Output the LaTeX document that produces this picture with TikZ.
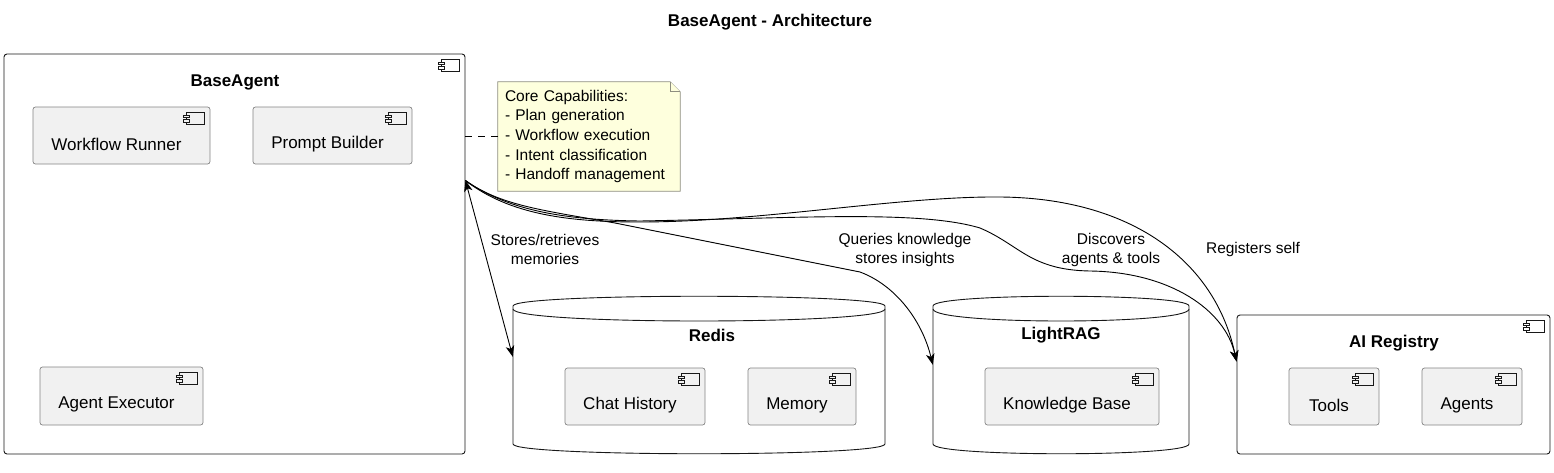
\documentclass[tikz,border=0pt]{standalone}
\usepackage{fontspec}
\setmainfont{Liberation Sans}
\usetikzlibrary{arrows.meta,backgrounds}
\definecolor{compfill}{HTML}{F1F1F1}
\definecolor{compline}{HTML}{858585}
\definecolor{outerline}{HTML}{181818}
\definecolor{notefill}{HTML}{FEFFDD}
\definecolor{noteline}{HTML}{8E8E80}
\newcommand\compicon[2]{%
  \begin{scope}[shift={(#1)}]
    \draw[iconline, fill=#2] (-24,6) rectangle (-6,18);
    \draw[iconline, fill=#2] (-27,8.5) rectangle (-21,11);
    \draw[iconline, fill=#2] (-27,13) rectangle (-21,15.5);
  \end{scope}}
\newcommand\dbshape[4]{% x1, x2, top, bottom
  \draw[outerbox] (#1,#3+12) -- (#1,#4-12) .. controls (#1,#4+4) and (#2,#4+4) .. (#2,#4-12)
    -- (#2,#3+12) .. controls (#2,#3-4) and (#1,#3-4) .. (#1,#3+12) -- cycle;
  \draw[outerbox] (#1,#3+12) .. controls (#1,#3+28) and (#2,#3+28) .. (#2,#3+12);}
\begin{document}
\begin{tikzpicture}[x=1pt,y=-1pt,
  outerbox/.style={draw=outerline, fill=white, line width=0.9pt, rounded corners=3pt},
  comp/.style={draw=compline, fill=compfill, line width=0.7pt, rounded corners=2.5pt},
  iconline/.style={draw=outerline, line width=0.6pt},
  ctext/.style={font=\fontsize{17}{20}\selectfont, yshift=-8.5pt, xshift=-5pt},
  btext/.style={font=\bfseries\fontsize{17}{20}\selectfont},
  etext/.style={font=\fontsize{15.5}{19}\selectfont, align=center},
  conn/.style={draw=black, line width=0.9pt},
  tip/.tip={Stealth[length=11pt, width=8.5pt, inset=3pt]}]
\useasboundingbox (0,0) rectangle (1554,472);

\node[btext] (title) at (770,22.5) {BaseAgent - Architecture};

% BaseAgent
\node[outerbox, minimum width=461, minimum height=400] (ba) at (234.5,254) {};
\node[btext] (balabel) at (235,82) {BaseAgent};
\compicon{ba.north east}{white}
\node[comp, minimum width=177, minimum height=57, label={[ctext]center:Workflow Runner}] (wr) at (121.5,135.5) {};
\compicon{wr.north east}{compfill}
\node[comp, minimum width=159, minimum height=57, label={[ctext]center:Prompt Builder}] (pb) at (332.5,135.5) {};
\compicon{pb.north east}{compfill}
\node[comp, minimum width=163, minimum height=58, label={[ctext]center:Agent Executor}] (ae) at (121.5,396) {};
\compicon{ae.north east}{compfill}

% Note
\node[font=\fontsize{15.5}{19.6}\selectfont, text width=168, align=left, inner xsep=7, inner ysep=0,
      minimum width=182, minimum height=109] (note) at (589,136.5)
  {\raisebox{-2.5pt}{\parbox{168pt}{Core Capabilities:\\- Plan generation\\- Workflow execution\\- Intent classification\\- Handoff management}}};
\begin{pgfonlayer}{background}
  \draw[draw=noteline, fill=notefill, line width=0.7pt] (note.north west) -- ([xshift=-10pt]note.north east)
    -- ([yshift=-10pt]note.north east) -- (note.south east) -- (note.south west) -- cycle;
\end{pgfonlayer}
\draw[draw=noteline, fill=notefill, line width=0.7pt] ([xshift=-10pt]note.north east) -- ++(0,10) -- ++(10,0);
\draw[conn, dashed, dash pattern=on 7pt off 6pt, line width=0.7pt] (ba.east |- note.west) -- (note.west);

% Redis
\node[minimum width=372, minimum height=156, inner sep=0] (redis) at (699,375) {};
\dbshape{513}{885}{297}{453}
\node[btext] (redislabel) at (712,335) {Redis};
\node[comp, minimum width=140, minimum height=57, label={[ctext]center:Chat History}] (ch) at (635,396.5) {};
\compicon{ch.north east}{compfill}
\node[comp, minimum width=108, minimum height=57, label={[ctext]center:Memory}] (mem) at (802,396.5) {};
\compicon{mem.north east}{compfill}

% LightRAG
\node[minimum width=256, minimum height=156, inner sep=0] (lrag) at (1061,375) {};
\dbshape{933}{1189}{297}{453}
\node[btext] (lraglabel) at (1061,335) {LightRAG};
\node[comp, minimum width=174, minimum height=57, label={[ctext]center:Knowledge Base}] (kb) at (1072,396.5) {};
\compicon{kb.north east}{compfill}

% AI Registry
\node[outerbox, minimum width=313, minimum height=139] (air) at (1393.5,384.5) {};
\node[btext] (airlabel) at (1394,343) {AI Registry};
\compicon{air.north east}{white}
\node[comp, minimum width=90, minimum height=57, label={[ctext]center:Tools}] (tools) at (1334,396.5) {};
\compicon{tools.north east}{compfill}
\node[comp, minimum width=100, minimum height=57, label={[ctext]center:Agents}] (agents) at (1472,396.5) {};
\compicon{agents.north east}{compfill}

% connectors
\coordinate (baport) at ([yshift=-127pt]ba.north east);
\coordinate (redisin) at ([yshift=-60pt]redis.north west);
\coordinate (lragin) at ([yshift=-68pt]lrag.north west);
\coordinate (airin) at ([yshift=-47pt]air.north west);

\draw[conn, {tip}-{tip}] (baport) -- (redisin);
\draw[conn, -{tip}] (baport) .. controls (500,205) and (540,210) .. (615,223) -- (860,272)
   .. controls (895,285) and (922,320) .. (lragin);
\draw[conn, -{tip}] (baport) .. controls (510,212) and (570,220) .. (640,221)
   .. controls (800,218) and (920,210) .. (980,228)
   .. controls (1020,245) and (1030,270) .. (1090,271)
   .. controls (1170,272) and (1225,310) .. (airin);
\draw[conn, -{tip}] (baport) .. controls (510,215) and (570,222) .. (640,222)
   .. controls (760,222) and (900,196) .. (1000,197)
   .. controls (1130,198) and (1215,260) .. (airin);

\node[etext] (l1) at (545,249.5) {Stores/retrieves\\memories};
\node[etext] (l2) at (905,249.5) {Queries knowledge\\stores insights};
\node[etext] (l3) at (1111,249.5) {Discovers\\agents \& tools};
\node[etext] (l4) at (1253,249) {Registers self};
\end{tikzpicture}
\end{document}
